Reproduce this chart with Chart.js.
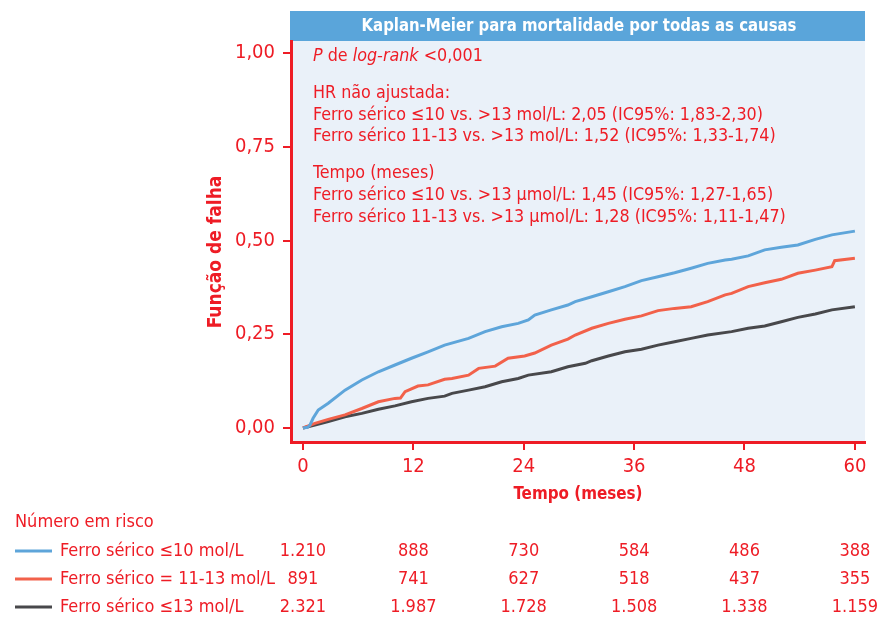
<!DOCTYPE html>
<html><head><meta charset="utf-8">
<script src="https://cdn.jsdelivr.net/npm/chart.js@4.4.1/dist/chart.umd.min.js"></script>
<style>html,body{margin:0;padding:0;background:#fff}canvas{display:block}</style>
</head><body>
<canvas id="c" width="884" height="618"></canvas>
<script>
// ---- data ----
const xTicks = [0, 12, 24, 36, 48, 60];
const yTicks = [0, 0.25, 0.5, 0.75, 1.0];

const timeLow = [0, 0.5, 0.76, 1.1, 1.66, 2.75, 4.57, 6.4, 8.2, 10, 11.8, 13.6, 15.4, 18, 19.8, 21.6, 23.4, 24.5, 25.2, 27, 28.8, 29.6, 31.4, 33.2, 35, 36.8, 38.6, 40.4, 42.2, 44, 45.9, 46.6, 48.4, 50.2, 52, 53.8, 55.7, 57.5, 60];
const failLow = [0, 0.002, 0.008, 0.026, 0.048, 0.066, 0.101, 0.128, 0.150, 0.168, 0.186, 0.203, 0.221, 0.239, 0.257, 0.270, 0.279, 0.288, 0.301, 0.315, 0.328, 0.337, 0.350, 0.3635, 0.377, 0.393, 0.4035, 0.414, 0.426, 0.439, 0.448, 0.450, 0.459, 0.475, 0.482, 0.488, 0.503, 0.515, 0.525];

const timeMid = [0, 1.3, 2.75, 4.57, 6.4, 8.2, 10, 10.6, 11.1, 12.5, 13.6, 15.4, 16.2, 18, 19.1, 20.9, 22.3, 24.1, 25.2, 27, 28.8, 29.6, 31.4, 33.2, 35, 36.8, 38.6, 40.4, 42.2, 44, 45.9, 46.6, 48.4, 50.2, 52, 53.8, 55.7, 57.5, 57.8, 60];
const failMid = [0, 0.0125, 0.023, 0.035, 0.052, 0.070, 0.079, 0.080, 0.097, 0.112, 0.115, 0.130, 0.132, 0.141, 0.159, 0.165, 0.186, 0.192, 0.200, 0.221, 0.237, 0.248, 0.266, 0.279, 0.290, 0.299, 0.313, 0.319, 0.3235, 0.337, 0.355, 0.359, 0.377, 0.3875, 0.3965, 0.4125, 0.421, 0.430, 0.446, 0.4525];

const timeHigh = [0, 1.3, 2.75, 4.57, 6.4, 8.2, 10, 11.8, 13.6, 15.4, 16.2, 18, 19.8, 21.6, 23.4, 24.5, 27, 28.8, 30.7, 31.4, 33.2, 35, 36.8, 38.6, 40.4, 42.2, 44, 46.6, 48.4, 50.2, 52, 53.8, 55.7, 57.5, 60];
const failHigh = [0, 0.008, 0.017, 0.030, 0.039, 0.050, 0.059, 0.070, 0.079, 0.085, 0.0925, 0.101, 0.110, 0.1235, 0.132, 0.141, 0.150, 0.1635, 0.1725, 0.1795, 0.192, 0.2035, 0.210, 0.221, 0.230, 0.239, 0.248, 0.257, 0.266, 0.272, 0.2835, 0.295, 0.304, 0.315, 0.3235];

const groupLabels = ['Ferro sérico ≤10 mol/L', 'Ferro sérico = 11-13 mol/L', 'Ferro sérico ≤13 mol/L'];
const riskTimes = [0, 12, 24, 36, 48, 60];
const riskLow  = ['1.210', '888', '730', '584', '486', '388'];
const riskMid  = ['891', '741', '627', '518', '437', '355'];
const riskHigh = ['2.321', '1.987', '1.728', '1.508', '1.338', '1.159'];

const chartTitle = 'Kaplan-Meier para mortalidade por todas as causas';
const xTitle = 'Tempo (meses)';
const yTitle = 'Função de falha';
const riskTitle = 'Número em risco';

// ---- styles ----
const RED = '#ee1c25';
const BLUE = '#5ea5da';
const ORANGE = '#f2614a';
const DARK = '#48484b';
const FONT = '"Liberation Sans Narrow", "DejaVu Sans Condensed", "Roboto", sans-serif';
Chart.defaults.font.family = FONT;

function pts(t, v) { return t.map((x, i) => ({x: x, y: v[i]})); }

// draw text compressed horizontally by factor sx
function txt(ctx, s, x, y, sx, align) {
  ctx.save();
  ctx.translate(x, y);
  ctx.scale(sx, 1);
  ctx.textAlign = align || 'left';
  ctx.fillText(s, 0, 0);
  ctx.restore();
}

const decor = {
  id: 'decor',
  beforeDraw(chart) {
    const {ctx, chartArea: a} = chart;
    ctx.save();
    ctx.fillStyle = '#eaf1f9';
    ctx.fillRect(a.left, a.top, a.right - a.left, a.bottom - a.top);
    ctx.fillStyle = '#5aa5da';
    ctx.fillRect(a.left - 1, 11, a.right - a.left + 1, a.top - 11);
    ctx.fillStyle = '#fff';
    ctx.font = 'bold 17.5px ' + FONT;
    ctx.textBaseline = 'middle';
    const w = ctx.measureText(chartTitle).width;
    txt(ctx, chartTitle, 579, 26, 435 / w, 'center');
    ctx.restore();
  },
  afterDraw(chart) {
    const {ctx} = chart;
    const xs = chart.scales.x;
    ctx.save();
    ctx.fillStyle = RED;
    ctx.textBaseline = 'middle';
    // y axis title
    ctx.save();
    ctx.translate(216, 252);
    ctx.rotate(-Math.PI / 2);
    ctx.font = 'bold 19px ' + FONT;
    ctx.textAlign = 'center';
    ctx.fillText(yTitle, 0, 0);
    ctx.restore();
    // x axis title
    ctx.font = 'bold 18px ' + FONT;
    const wt = ctx.measureText(xTitle).width;
    txt(ctx, xTitle, 578, 494, 129 / wt, 'center');

    // annotation
    const fs = 18.5, SX = 0.96;
    const reg = fs + 'px ' + FONT, ita = 'italic ' + fs + 'px ' + FONT;
    let x = 313, y = 56;
    const segs = [['P', ita], [' de ', reg], ['log-rank', ita], [' <0,001', reg]];
    segs.forEach(s => { ctx.font = s[1]; txt(ctx, s[0], x, y, SX); x += ctx.measureText(s[0]).width * SX; });
    ctx.font = reg;
    const lines = [
      ['HR não ajustada:', 93],
      ['Ferro sérico ≤10 vs. >13 mol/L: 2,05 (IC95%: 1,83-2,30)', 115],
      ['Ferro sérico 11-13 vs. >13 mol/L: 1,52 (IC95%: 1,33-1,74)', 136],
      ['Tempo (meses)', 173],
      ['Ferro sérico ≤10 vs. >13 µmol/L: 1,45 (IC95%: 1,27-1,65)', 195],
      ['Ferro sérico 11-13 vs. >13 µmol/L: 1,28 (IC95%: 1,11-1,47)', 217]
    ];
    lines.forEach(l => txt(ctx, l[0], 313, l[1], SX));
    // number at risk
    ctx.font = '18px ' + FONT;
    ctx.textAlign = 'left';
    ctx.fillText(riskTitle, 15, 522);
    const rows = [riskLow, riskMid, riskHigh];
    const cols = [BLUE, ORANGE, DARK];
    const ys = [551, 579, 607];
    rows.forEach((r, i) => {
      ctx.strokeStyle = cols[i];
      ctx.lineWidth = 3;
      ctx.beginPath(); ctx.moveTo(15, ys[i]); ctx.lineTo(52, ys[i]); ctx.stroke();
      ctx.textAlign = 'left';
      ctx.fillText(groupLabels[i], 60, ys[i]);
      ctx.textAlign = 'center';
      r.forEach((v, j) => ctx.fillText(v, xs.getPixelForValue(riskTimes[j]), ys[i]));
    });
    ctx.restore();
  }
};

new Chart(document.getElementById('c'), {
  type: 'line',
  data: {
    datasets: [
      {label: groupLabels[0], data: pts(timeLow, failLow), borderColor: BLUE},
      {label: groupLabels[1], data: pts(timeMid, failMid), borderColor: ORANGE},
      {label: groupLabels[2], data: pts(timeHigh, failHigh), borderColor: DARK}
    ]
  },
  options: {
    responsive: false,
    animation: false,
    events: [],
    layout: {padding: {left: 201, top: 41, right: 19, bottom: 106}},
    elements: {line: {borderWidth: 3, tension: 0}, point: {radius: 0}},
    plugins: {legend: {display: false}, tooltip: {enabled: false}},
    scales: {
      x: {
        type: 'linear', min: -1.3, max: 61.1,
        afterBuildTicks: s => { s.ticks = xTicks.map(v => ({value: v})); },
        afterFit: s => { s.height = 70; },
        ticks: {color: RED, font: {size: 20}, padding: 5, autoSkip: false, maxRotation: 0, callback: v => String(v)},
        grid: {drawOnChartArea: false, drawTicks: true, tickLength: 8, color: RED, lineWidth: 2},
        border: {color: RED, width: 3},
        title: {display: false}
      },
      y: {
        type: 'linear', min: -0.0373, max: 1.032,
        afterBuildTicks: s => { s.ticks = yTicks.map(v => ({value: v})); },
        afterFit: s => { s.width = 90; },
        ticks: {color: RED, font: {size: 20}, padding: 8, callback: v => v.toFixed(2).replace('.', ',')},
        grid: {drawOnChartArea: false, drawTicks: true, tickLength: 8, color: RED, lineWidth: 2},
        border: {color: RED, width: 3},
        title: {display: false}
      }
    }
  },
  plugins: [decor]
});
</script>
</body></html>
